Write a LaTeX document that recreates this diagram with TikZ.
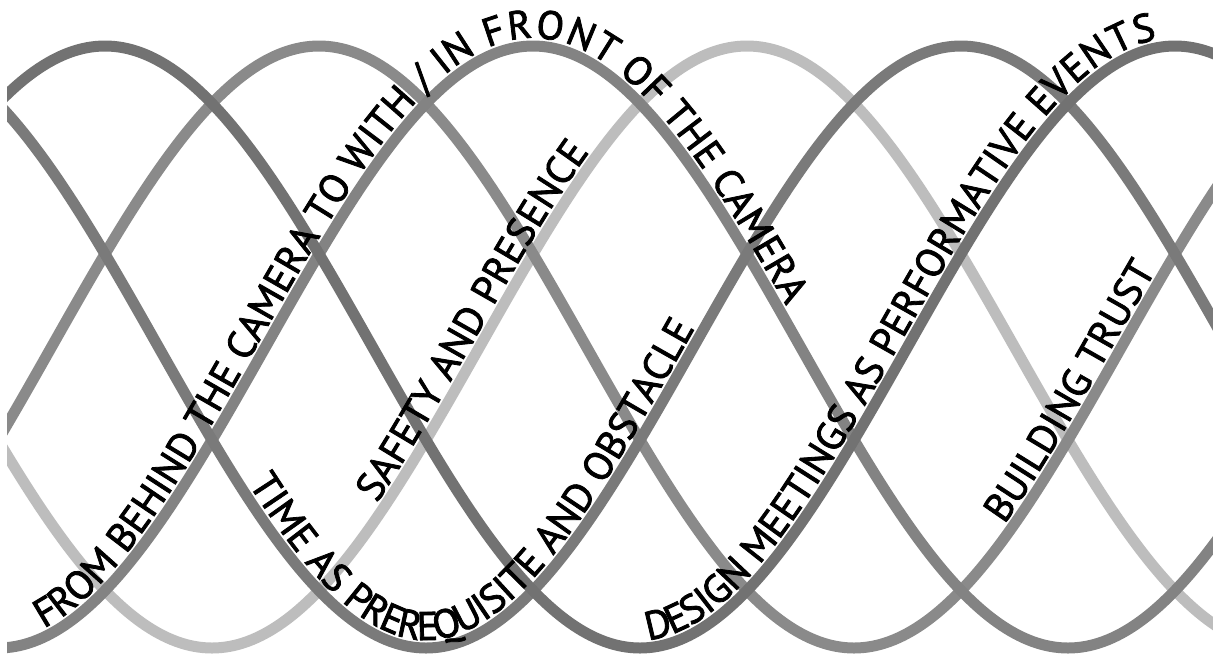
\documentclass[tikz,border=0pt]{standalone}
\usepackage{fontspec}
\newfontfamily\labelfont[FakeBold=2]{PT Sans}
\usetikzlibrary{decorations.text}
\definecolor{strandA}{HTML}{727272}
\definecolor{strandB}{HTML}{8A8A8A}
\definecolor{strandC}{HTML}{838383}
\definecolor{strandD}{HTML}{BDBDBD}
\definecolor{strandE}{HTML}{7A7A7A}
\newcommand{\lbl}{\labelfont\fontsize{20pt}{20pt}\selectfont}
\begin{document}
\begin{tikzpicture}[x=0.5pt,y=-0.5pt,
  strand/.style={line width=5.5pt},
  pathtext/.style={decorate,decoration={text along path,raise=4pt,
     text align={left indent=#1},
     text format delimiters={|}{|}}}
]
\useasboundingbox (0,0) rectangle (1213,659);
\fill[white] (0,0) rectangle (1213,659);
\begin{scope}
\clip (7,0) rectangle (1213,659);
% strand D (light)
\draw[strand,strandD] (-323,46) cos (-55.5,347) sin (212,648) cos (479.5,347) sin (747,46) cos (1014.5,347) sin (1282,648);
% strand B
\draw[strand,strandB] (-216,648) cos (51.5,347) sin (319,46) cos (586.5,347) sin (854,648) cos (1121.5,347) sin (1389,46);
% strand C
\draw[strand,strandC] (-537,46) cos (-269.5,347) sin (-2,648) cos (265.5,347) sin (533,46) cos (800.5,347) sin (1068,648) cos (1335.5,347);
% strand E
\draw[strand,strandE] (-109,46) cos (158.5,347) sin (426,648) cos (693.5,347) sin (961,46) cos (1228.5,347);
% strand A
\draw[strand,strandA] (-162.5,347) sin (105,46) cos (372.5,347) sin (640,648) cos (907.5,347) sin (1175,46) cos (1442.5,347);
\end{scope}
% texts
\path[pathtext=26pt,decoration={text={|\lbl|FROM BEHIND THE CAMERA TO WITH / IN FRONT OF THE CAMERA}}]
  (-2,648) cos (265.5,347) sin (533,46) cos (800.5,347) sin (1068,648);
\path[pathtext=115pt,decoration={text={|\lbl|SAFETY AND PRESENCE}}]
  (212,648) cos (479.5,347) sin (747,46);
\path[pathtext=82pt,decoration={text={|\lbl|TIME AS PREREQUISITE AND OBSTACLE}}]
  (158.5,347) sin (426,648) cos (693.5,347) sin (961,46);
\path[pathtext=5pt,decoration={text={|\lbl|DESIGN MEETINGS AS PERFORMATIVE EVENTS}}]
  (640,648) cos (907.5,347) sin (1175,46) cos (1442.5,347);
\path[pathtext=102pt,decoration={text={|\lbl|BUILDING TRUST}}]
  (854,648) cos (1121.5,347) sin (1389,46);
\end{tikzpicture}
\end{document}
